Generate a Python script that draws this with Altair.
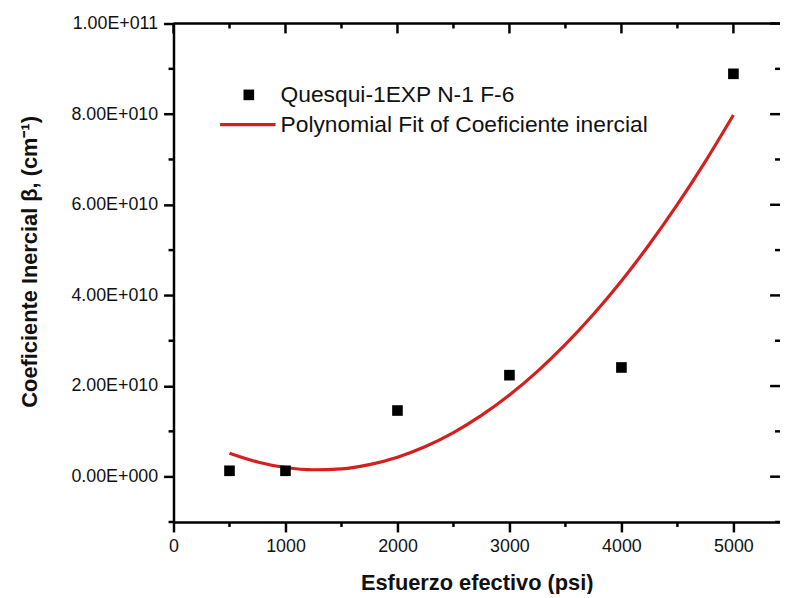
import altair as alt
import pandas as pd

# measured data (Esfuerzo efectivo, psi) vs Coeficiente inercial
x_psi = [500, 1000, 2000, 3000, 4000, 5000]
beta = [1.3e9, 1.3e9, 1.46e10, 2.24e10, 2.41e10, 8.89e10]

# polynomial fit curve
fit_x = [500, 750, 1000, 1250, 1500, 1750, 2000, 2250, 2500, 2750, 3000,
         3250, 3500, 3750, 4000, 4250, 4500, 4750, 5000]
fit_y = [5.19e9, 3.25e9, 2.03e9, 1.53e9, 1.74e9, 2.67e9, 4.31e9, 6.66e9, 9.74e9,
         1.352e10, 1.803e10, 2.325e10, 2.918e10, 3.583e10, 4.319e10, 5.128e10,
         6.007e10, 6.958e10, 7.981e10]

# axes
x_major = [0, 1000, 2000, 3000, 4000, 5000]
x_minor = [500, 1500, 2500, 3500, 4500]
y_major = [0, 2e10, 4e10, 6e10, 8e10, 1e11]
y_minor = [-1e10, 1e10, 3e10, 5e10, 7e10, 9e10]
y_labels = ["0.00E+000", "2.00E+010", "4.00E+010", "6.00E+010", "8.00E+010", "1.00E+011"]

legend_labels = ["Quesqui-1EXP N-1 F-6", "Polynomial Fit of Coeficiente inercial"]

X_DOMAIN = [0, 5416]
Y_DOMAIN = [-1e10, 1e11]
W, H = 612, 503
FONT = "Liberation Sans"
RED = "#d41f1f"
TW = 2.5

pts = pd.DataFrame({"x": x_psi, "y": beta})
fit = pd.DataFrame({"x": fit_x, "y": fit_y})

label_expr = " : ".join(
    f"datum.value == {v:.0f} ? '{l}'" for v, l in zip(y_major, y_labels)
) + " : ''"

xscale = alt.Scale(domain=X_DOMAIN, nice=False, zero=False)
yscale = alt.Scale(domain=Y_DOMAIN, nice=False, zero=False)

x_axis = alt.Axis(
    values=x_major, format="d", tickSize=10,
    tickColor="black", tickWidth=TW, domainColor="black", domainWidth=TW,
    labelFont=FONT, labelFontSize=18, labelColor="#111", labelPadding=6,
    title="Esfuerzo efectivo (psi)", titleFont=FONT, titleFontSize=22,
    titleFontWeight="bold", titleColor="#111", titlePadding=17, grid=False,
    labelFlush=False,
)
y_axis = alt.Axis(
    values=y_major, labelExpr=label_expr, tickSize=10,
    tickColor="black", tickWidth=TW, domainColor="black", domainWidth=TW,
    labelFont=FONT, labelFontSize=18, labelColor="#111", labelPadding=6,
    title="Coeficiente Inercial β, (cm⁻¹)", titleFont=FONT, titleFontSize=22,
    titleFontWeight="bold", titleColor="#111", titleX=-145, titleY=240,
    titleBaseline="middle", titleAlign="center", titleAngle=-90, grid=False,
    labelFlush=False,
)

base_pts = alt.Chart(pts).mark_square(size=115, color="black", opacity=1).encode(
    x=alt.X("x:Q", scale=xscale, axis=x_axis),
    y=alt.Y("y:Q", scale=yscale, axis=y_axis),
)
line = alt.Chart(fit).mark_line(color=RED, strokeWidth=3.2, interpolate="monotone").encode(
    x=alt.X("x:Q", scale=xscale),
    y=alt.Y("y:Q", scale=yscale),
)


def xticks(values, y0, y1):
    return alt.Chart(pd.DataFrame({"x": values})).mark_rule(color="black", strokeWidth=TW).encode(
        x=alt.X("x:Q", scale=xscale), y=alt.value(y0), y2=alt.value(y1))


def yticks(values, x0, x1):
    return alt.Chart(pd.DataFrame({"y": values})).mark_rule(color="black", strokeWidth=TW).encode(
        y=alt.Y("y:Q", scale=yscale), x=alt.value(x0), x2=alt.value(x1))


# minor ticks outside on bottom/left, inward ticks on top/right
bottom_minor = xticks(x_minor, H, H + 5)
left_minor = yticks(y_minor, -5, 0)
top_major = xticks(x_major, 0, 10)
top_minor = xticks(x_minor, 0, 5)
right_major = yticks(y_major, W - 10, W)
right_minor = yticks(y_minor, W - 5, W)
top_line = alt.Chart(pd.DataFrame({"x": [0]})).mark_rule(color="black", strokeWidth=TW).encode(
    x=alt.value(0), x2=alt.value(W), y=alt.value(0))

# legend
leg_sq = alt.Chart(pd.DataFrame({"l": legend_labels[:1]})).mark_square(size=115, color="black", opacity=1).encode(
    x=alt.value(76), y=alt.value(72))
leg_line = alt.Chart(pd.DataFrame({"l": legend_labels[1:]})).mark_rule(color=RED, strokeWidth=3.2).encode(
    x=alt.value(47), x2=alt.value(103), y=alt.value(102))
leg_text1 = alt.Chart(pd.DataFrame({"l": legend_labels[:1]})).mark_text(
    align="left", baseline="middle", font=FONT, fontSize=23, color="#111"
).encode(text="l:N", x=alt.value(108), y=alt.value(72))
leg_text2 = alt.Chart(pd.DataFrame({"l": legend_labels[1:]})).mark_text(
    align="left", baseline="middle", font=FONT, fontSize=23, color="#111"
).encode(text="l:N", x=alt.value(108), y=alt.value(102))

chart = alt.layer(
    line, base_pts, top_line, bottom_minor, left_minor, top_major, top_minor,
    right_major, right_minor, leg_sq, leg_line, leg_text1, leg_text2,
).properties(
    width=W, height=H,
    autosize=alt.AutoSizeParams(type="none"),
    padding={"left": 167, "top": 13, "right": 0, "bottom": 70},
).configure_view(stroke=None).configure(background="white")

chart.save("out.html", embed_options={"renderer": "svg", "actions": False})
